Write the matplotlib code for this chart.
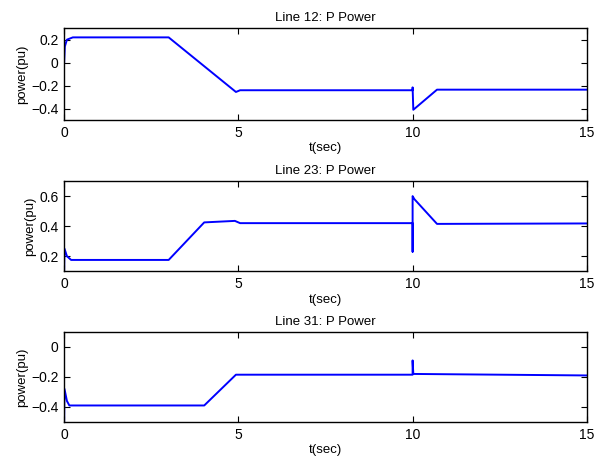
import matplotlib
matplotlib.use('Agg')
import matplotlib.pyplot as plt

plt.rcParams['font.family'] = ['Liberation Sans', 'DejaVu Sans']
plt.rcParams['axes.unicode_minus'] = True

# Line 12 breakpoints
t12 = [0, 0.02, 0.08, 0.25, 3.0, 4.93, 5.05, 10.0, 10.0, 10.02, 10.7, 15]
p12 = [0, 0.14, 0.20, 0.22, 0.22, -0.255, -0.24, -0.24, -0.215, -0.41, -0.235, -0.235]

# Line 23 breakpoints
t23 = [0, 0.01, 0.08, 0.2, 3.0, 4.02, 4.9, 5.05, 10.0, 10.0, 10.0, 10.05, 10.7, 15]
p23 = [0.1, 0.25, 0.20, 0.175, 0.175, 0.425, 0.435, 0.42, 0.42, 0.23, 0.6, 0.58, 0.415, 0.418]

# Line 31 breakpoints
t31 = [0, 0.01, 0.08, 0.15, 4.02, 4.93, 10.0, 10.0, 10.02, 15]
p31 = [-0.5, -0.28, -0.36, -0.39, -0.39, -0.185, -0.185, -0.09, -0.18, -0.19]

titles = ['Line 12: P Power', 'Line 23: P Power', 'Line 31: P Power']
ylims = [(-0.5, 0.3), (0.1, 0.7), (-0.5, 0.1)]
yticks = [[-0.4, -0.2, 0, 0.2], [0.2, 0.4, 0.6], [-0.4, -0.2, 0]]
yticklabels = [['\u22120.4', '\u22120.2', '0', '0.2'], ['0.2', '0.4', '0.6'],
               ['\u22120.4', '\u22120.2', '0']]
series = [(t12, p12), (t23, p23), (t31, p31)]

fig = plt.figure(figsize=(6.05, 4.62), dpi=100, facecolor='white')
boxes = [[0.106, 0.740, 0.864, 0.199],
         [0.106, 0.413, 0.864, 0.195],
         [0.106, 0.0866, 0.864, 0.195]]

for box, (t, p), title, yl, yt, ytl in zip(boxes, series, titles, ylims, yticks, yticklabels):
    ax = fig.add_axes(box)
    ax.plot(t, p, color='#0000ff', lw=1.4)
    ax.set_xlim(0, 15)
    ax.set_ylim(*yl)
    ax.set_xticks([0, 5, 10, 15])
    ax.set_yticks(yt)
    ax.set_yticklabels(ytl)
    ax.tick_params(direction='in', top=True, right=True, labelsize=10, length=4, pad=4)
    ax.set_title(title, fontsize=9.5, pad=5)
    ax.set_xlabel('t(sec)', fontsize=9.5, labelpad=2)
    ax.set_ylabel('power(pu)', fontsize=9.5, labelpad=2)
    for s in ax.spines.values():
        s.set_linewidth(1.0)

fig.savefig('out.png', dpi=100)
